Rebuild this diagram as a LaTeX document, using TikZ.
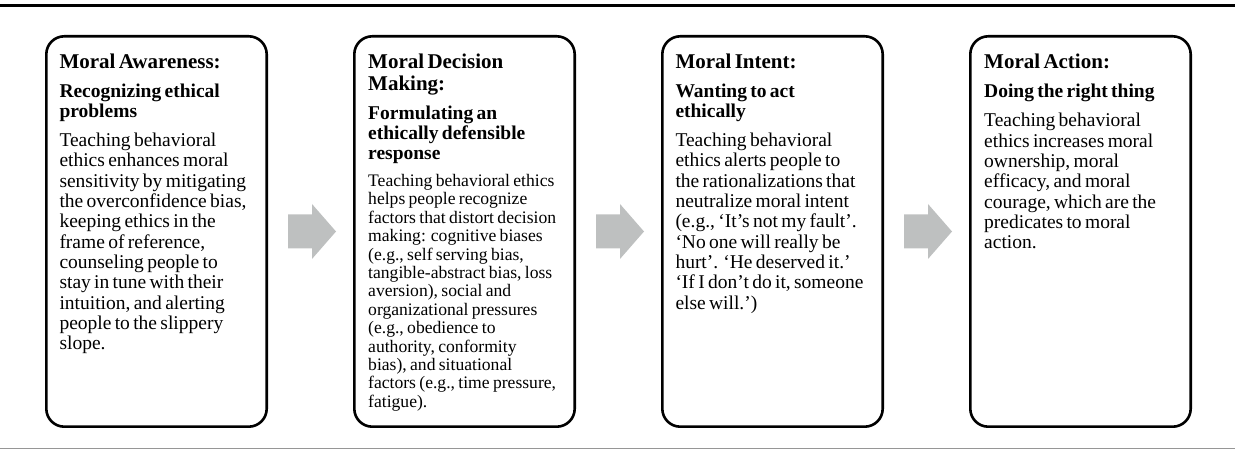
\documentclass[tikz,border=0pt]{standalone}
\usepackage{fontspec}
\setmainfont{Liberation Serif}
\usetikzlibrary{positioning,calc}

\definecolor{arrowgray}{RGB}{190,192,192}
\definecolor{rulegray}{RGB}{150,150,150}

\newcommand{\titlefont}{\fontsize{21}{22.5}\selectfont\bfseries}
\newcommand{\subfont}{\fontsize{19.5}{19.7}\selectfont\bfseries}
\newcommand{\bodyfont}{\fontsize{19.5}{20.3}\selectfont}
\newcommand{\smallbodyfont}{\fontsize{17.6}{18.4}\selectfont}
\newcommand{\stagecontent}[4][\bodyfont]{%
  {\titlefont #2\par}\vspace{9pt}%
  {\subfont #3\par}\vspace{9pt}%
  {#1 #4\par}}

\begin{document}
\begin{tikzpicture}[x=1pt, y=1pt,
    stagebox/.style={draw=black, line width=2.6pt, rounded corners=18pt,
      minimum width=220.4pt, minimum height=390.4pt, inner sep=0pt},
    stagetext/.style={anchor=base west, text width=205pt, align=left, inner sep=0pt}]
  % 1. page frame
  \useasboundingbox (0,0) rectangle (1235,450);
  \draw[line width=2.5pt] (0,444.7) -- (1235,444.7);
  \draw[rulegray, line width=1pt] (0,1) -- (1235,1);

  % 2. four stage boxes
  \node[stagebox] (b1) at (156.5,218.5) {};
  \node[stagebox, right=85pt of b1] (b2) {};
  \node[stagebox, right=85pt of b2] (b3) {};
  \node[stagebox, right=85pt of b3] (b4) {};

  % 3. box texts (first baseline at a fixed offset from the top left corner)
  \node[stagetext] (t1) at ($(b1.north west)+(14.3,-34)$) {\stagecontent{Moral Awareness:}{Recognizing ethical\\problems}{%
    Teaching behavioral\\ethics enhances moral\\sensitivity by mitigating\\the overconfidence bias,\\keeping ethics in the\\frame of reference,\\counseling people to\\stay in tune with their\\intuition, and alerting\\people to the slippery\\slope.}};
  \node[stagetext] (t2) at ($(b2.north west)+(15,-33.5)$) {\stagecontent[\smallbodyfont]{Moral Decision\\Making:}{Formulating an\\ethically defensible\\response}{%
    Teaching behavioral ethics\\helps people recognize\\factors that distort decision\\making:  cognitive biases\\(e.g., self serving bias,\\tangible-abstract bias, loss\\aversion), social and\\organizational pressures\\(e.g., obedience to\\authority, conformity\\bias), and situational\\factors (e.g., time pressure,\\fatigue).}};
  \node[stagetext] (t3) at ($(b3.north west)+(14.3,-34)$) {\stagecontent{Moral Intent:}{Wanting to act\\ethically}{%
    Teaching behavioral\\ethics alerts people to\\the rationalizations that\\neutralize moral intent\\(e.g., `It's not my fault'.\\`No one will really be\\hurt'.  `He deserved it.'\\`If I don't do it, someone\\else will.')}};
  \node[stagetext] (t4) at ($(b4.north west)+(15,-34)$) {\stagecontent{Moral Action:}{Doing the right thing}{%
    Teaching behavioral\\ethics increases moral\\ownership, moral\\efficacy, and moral\\courage, which are the\\predicates to moral\\action.}};

  % 4. gray block arrows between neighbouring boxes
  \foreach \from/\to in {b1/b2, b2/b3, b3/b4}
    \fill[arrowgray] ($(\from.east)!0.5!(\to.west)+(-22.5,17)$) -- ++(24,0) -- ++(0,10.5)
      -- ++(24,-27.5) -- ++(-24,-27.5) -- ++(0,10.5) -- ++(-24,0) -- cycle;
\end{tikzpicture}
\end{document}
